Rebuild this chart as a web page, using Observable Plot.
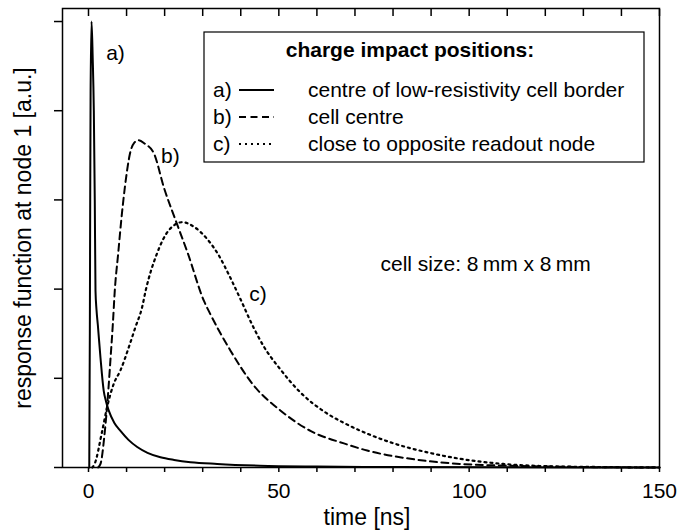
<!DOCTYPE html>
<html>
<head>
<meta charset="utf-8">
<script src="https://cdn.jsdelivr.net/npm/d3@7"></script>
<script src="https://cdn.jsdelivr.net/npm/@observablehq/plot@0.6"></script>
<style>
  html, body { margin: 0; padding: 0; background: #fff; }
  #chart svg { display: block; }
</style>
</head>
<body>
<div id="chart"></div>
<script>
// a) centre of low-resistivity cell border
const tA = [0.2, 0.35, 0.45, 0.55, 0.8, 1.1, 1.4, 1.65, 1.84, 2.1, 2.45, 3.15, 4.0, 4.6, 5.3, 6.8, 8.4, 10.5, 12.8, 15.5, 18.9, 22.5, 26.8, 33.8, 45, 60, 80, 110, 150];
const vA = [0, 1.5, 3.0, 4.2, 5.0, 4.6, 4.0, 3.0, 1.98, 1.77, 1.6, 1.23, 0.86, 0.74, 0.64, 0.5, 0.41, 0.31, 0.23, 0.165, 0.115, 0.085, 0.06, 0.04, 0.02, 0.01, 0.005, 0.002, 0];
// b) cell centre
const tB = [2.5, 3.15, 4.3, 5.2, 5.8, 6.4, 6.9, 7.8, 8.6, 9.55, 10.9, 12.0, 13.2, 14.8, 17.2, 19.8, 22.9, 26.1, 30.3, 32.0, 37.3, 43.4, 50.4, 58.3, 67.1, 73.2, 84.6, 97.7, 110.8, 125, 150];
const vB = [0, 0.04, 0.41, 0.86, 1.23, 1.61, 1.98, 2.4, 2.77, 3.14, 3.52, 3.64, 3.67, 3.63, 3.52, 3.14, 2.77, 2.4, 1.87, 1.72, 1.31, 0.92, 0.64, 0.41, 0.27, 0.19, 0.097, 0.04, 0.02, 0.008, 0];
// c) close to opposite readout node
const tC = [1.0, 1.6, 3.6, 4.9, 6.65, 8.4, 10.6, 12.3, 14.1, 15.0, 18.0, 21.1, 24.6, 28.0, 31.2, 34.2, 37.0, 40.0, 43.0, 46.0, 50.4, 55.7, 61.8, 67.1, 73.2, 80.2, 89, 97.7, 109, 120, 135, 150];
const vC = [0, 0.04, 0.41, 0.68, 0.94, 1.09, 1.35, 1.57, 1.8, 1.98, 2.4, 2.66, 2.75, 2.69, 2.56, 2.38, 2.15, 1.88, 1.6, 1.36, 1.1, 0.84, 0.63, 0.5, 0.38, 0.27, 0.17, 0.097, 0.04, 0.015, 0.005, 0];

const xTicks = [0, 10, 20, 30, 40, 50, 60, 70, 80, 90, 100, 110, 120, 130, 140, 150];
const yTicks = [0, 1, 2, 3, 4, 5];
const xLabel = "time [ns]";
const yLabel = "response function at node 1 [a.u.]";
const legendTitle = "charge impact positions:";
const legendKeys = ["a)", "b)", "c)"];
const legendNames = ["centre of low-resistivity cell border", "cell centre", "close to opposite readout node"];
const curveLabels = ["a)", "b)", "c)"];
const labelT = [7.1, 21.5, 44.5];
const labelV = [4.64, 3.49, 1.94];
const noteText = "cell size: 8\u2009mm x 8\u2009mm";
const noteT = 76.7, noteV = 2.28;

const dashes = [null, "7,4.5", "2,4"];

const seriesA = tA.map((t, i) => ({t, v: vA[i]}));
const seriesB = tB.map((t, i) => ({t, v: vB[i]}));
const seriesC = tC.map((t, i) => ({t, v: vC[i]}));
const labels = curveLabels.map((s, i) => ({s, t: labelT[i], v: labelV[i]}));

const FONT = "'Liberation Sans', Arial, Helvetica, sans-serif";

const chart = Plot.plot({
  width: 678,
  height: 530,
  marginLeft: 62,
  marginRight: 19,
  marginTop: 8,
  marginBottom: 63,
  style: {fontFamily: FONT, fontSize: "21px", color: "#000", background: "#fff"},
  x: {domain: [-6.83, 150]},
  y: {domain: [0, 5.146]},
  marks: [
    Plot.line(seriesA, {x: "t", y: "v", stroke: "#000", strokeWidth: 2, curve: "monotone-x"}),
    Plot.line(seriesB, {x: "t", y: "v", stroke: "#000", strokeWidth: 2, strokeDasharray: dashes[1], curve: "monotone-x"}),
    Plot.line(seriesC, {x: "t", y: "v", stroke: "#000", strokeWidth: 2.2, strokeDasharray: dashes[2], curve: "monotone-x"}),
    Plot.text(labels, {x: "t", y: "v", text: "s", fontSize: 21, fill: "#000"}),
    Plot.text([noteText], {x: noteT, y: noteV, text: d => d, textAnchor: "start", fontSize: 21, fill: "#000"}),
    Plot.axisX({anchor: "bottom", ticks: xTicks, tickSize: 5, tickPadding: 11, tickFormat: d => d % 50 === 0 ? String(d) : "", label: null, fontSize: 21, strokeWidth: 1.5}),
    Plot.text([xLabel], {frameAnchor: "bottom", text: d => d, dx: 6, dy: 57, lineAnchor: "bottom", fontSize: 23, fill: "#000"}),
    Plot.axisX({anchor: "top", ticks: xTicks, tickSize: -7, tickFormat: () => "", label: null, strokeWidth: 1.5}),
    Plot.axisY({anchor: "left", ticks: yTicks, tickSize: 8, tickFormat: () => "", label: yLabel, labelAnchor: "center", labelArrow: "none", labelOffset: 48, fontSize: 23, strokeWidth: 1.5}),
    Plot.frame({stroke: "#000", strokeWidth: 1.5})
  ]
});

document.getElementById("chart").appendChild(chart);

// legend box inside the plot area
const svg = d3.select(chart);
const g = svg.append("g").attr("font-family", FONT).attr("font-size", 21).attr("text-anchor", "start").attr("fill", "#000");
g.append("rect").attr("x", 204).attr("y", 32).attr("width", 440).attr("height", 130)
  .attr("fill", "#fff").attr("stroke", "#000").attr("stroke-width", 1.2);
g.append("text").attr("x", 410).attr("y", 57).attr("text-anchor", "middle")
  .attr("font-weight", "bold").text(legendTitle);
legendKeys.forEach((k, i) => {
  const yb = 97 + i * 27;
  g.append("text").attr("x", 213).attr("y", yb).attr("text-anchor", "start").text(k);
  g.append("line").attr("x1", 239).attr("x2", 274).attr("y1", yb - 7).attr("y2", yb - 7)
    .attr("stroke", "#000").attr("stroke-width", i === 2 ? 2 : 1.8)
    .attr("stroke-dasharray", dashes[i]);
  g.append("text").attr("x", 308).attr("y", yb).attr("text-anchor", "start").text(legendNames[i]);
});
</script>
</body>
</html>
